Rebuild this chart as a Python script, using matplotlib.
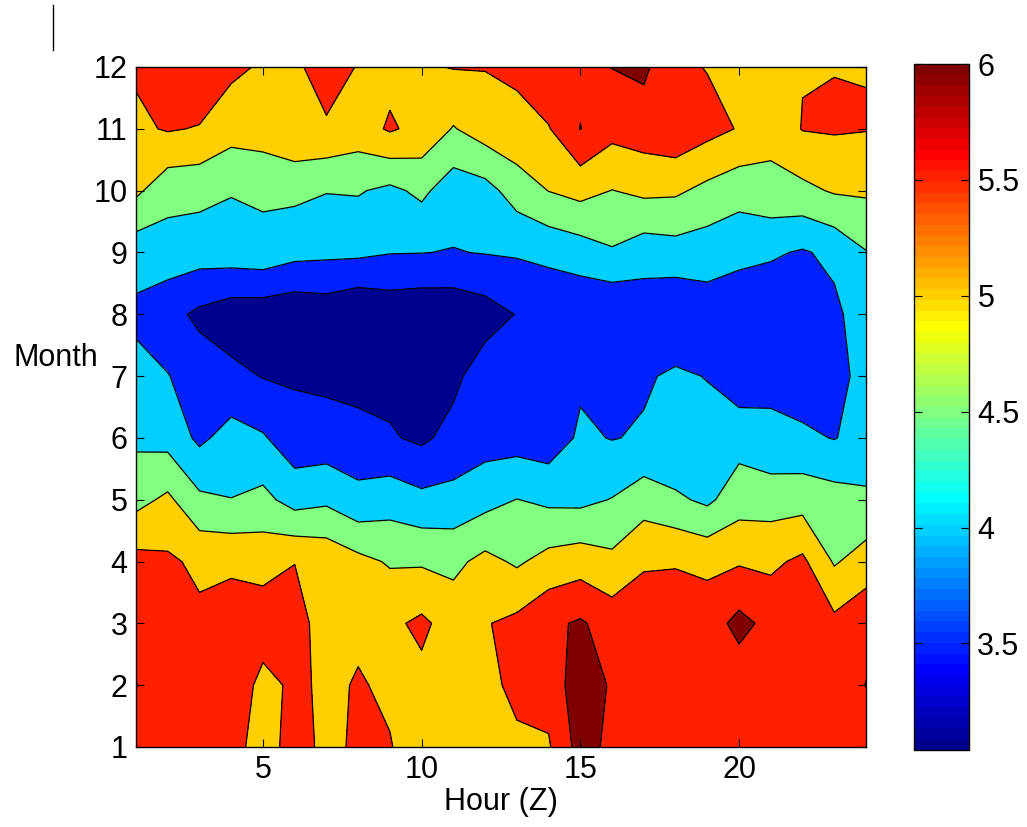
import numpy as np
import matplotlib
matplotlib.use('Agg')
import matplotlib.pyplot as plt
from matplotlib.colors import ListedColormap, Normalize
from matplotlib.cm import ScalarMappable
from matplotlib.lines import Line2D

plt.rcParams['font.family'] = ['Liberation Sans', 'DejaVu Sans']

# Grid: hour of day (Z) and month
hours = list(range(1, 25))
months = list(range(1, 13))

# values per month, hour 1 .. 24
jan = [5.8, 5.75, 5.75, 5.75, 5.2, 5.77, 5.34, 5.6, 5.52, 5.3, 5.2, 5.25,
       5.40, 5.45, 6.2, 5.88, 5.7, 5.7, 5.65, 5.7, 5.7, 5.7, 5.7, 5.7]
feb = [6.01, 5.8, 5.7, 5.85, 5.35, 5.59, 5.42, 5.53, 5.44, 5.37, 5.3, 5.35,
       5.63, 5.68, 6.3, 5.94, 5.75, 5.7, 5.7, 5.7, 5.75, 5.7, 5.75, 6.01]
mar = [5.85, 5.75, 5.6, 5.74, 5.76, 5.7, 5.27, 5.43, 5.4, 5.6, 5.28, 5.47,
       5.62, 5.9, 6.06, 5.78, 5.7, 5.65, 5.75, 6.15, 5.85, 5.65, 5.62, 5.87]
apr = [5.66, 5.58, 5.4, 5.41, 5.33, 5.49, 5.37, 5.14, 4.95, 4.94, 4.88, 5.14,
       4.93, 5.17, 5.27, 5.12, 5.46, 5.48, 5.39, 5.45, 5.4, 5.6, 4.95, 5.22]
may = [4.84, 5.10, 4.6, 4.51, 4.64, 4.30, 4.40, 4.14, 4.28, 4.13, 4.16, 4.33,
       4.51, 4.40, 4.38, 4.52, 4.77, 4.59, 4.40, 4.78, 4.78, 4.8, 4.71, 4.59]
jun = [4.4, 4.32, 3.9, 4.19, 4.05, 3.71, 3.71, 3.70, 3.55, 3.41, 3.66, 3.79,
       3.78, 3.71, 4.08, 3.98, 4.05, 4.03, 4.2, 4.3, 4.11, 4.09, 3.98, 4.18]
jul = [4.15, 4.02, 3.75, 3.63, 3.48, 3.44, 3.39, 3.29, 3.35, 3.2, 3.38, 3.77,
       3.7, 3.6, 3.92, 3.6, 3.94, 4.08, 3.98, 3.69, 3.88, 3.73, 3.8, 4.2]
aug = [3.9, 3.66, 3.4, 3.22, 3.2, 3.13, 3.2, 3.04, 3.17, 3.12, 3.14, 3.28,
       3.52, 3.6, 3.59, 3.52, 3.7, 3.57, 3.75, 3.7, 3.6, 3.6, 3.88, 4.3]
sep = [4.2, 4.27, 4.22, 4.26, 4.31, 4.15, 4.11, 4.1, 4.02, 4.01, 3.98, 4.02,
       4.05, 4.13, 4.25, 4.45, 4.22, 4.29, 4.23, 4.12, 4.07, 3.95, 4.12, 4.48]
oct_ = [5.1, 4.68, 4.65, 4.53, 4.6, 4.62, 4.52, 4.54, 4.39, 4.61, 4.22, 4.32,
        4.73, 5.01, 5.16, 4.99, 5.11, 5.08, 4.87, 4.7, 4.84, 4.88, 5.05, 5.07]
nov = [5.41, 5.54, 5.47, 5.20, 5.24, 5.43, 5.43, 5.27, 5.56, 5.35, 4.97, 5.24,
       5.37, 5.47, 6.01, 5.66, 5.75, 5.87, 5.66, 5.47, 5.17, 5.52, 5.55, 5.52]
dec = [5.56, 5.8, 5.9, 5.61, 5.44, 5.4, 5.75, 5.47, 5.36, 5.45, 5.52, 5.52,
       5.58, 5.9, 5.9, 6.01, 6.1, 5.6, 5.48, 5.35, 5.3, 5.48, 5.49, 5.49]

levels = [3.5, 4.0, 4.5, 5.0, 5.5, 6.0]
cbar_ticks = [3.5, 4, 4.5, 5, 5.5, 6]


def matlab_jet(m=64):
    # same construction as MATLAB's jet(m)
    n = int(np.ceil(m / 4))
    u = np.concatenate([np.arange(1, n + 1) / n, np.ones(n - 1), np.arange(n, 0, -1) / n])
    g = int(np.ceil(n / 2)) - (1 if m % 4 == 1 else 0) + np.arange(1, len(u) + 1)
    r = g + n
    b = g - n
    rgb = np.zeros((m, 3))
    for ch, idx in enumerate([r, g, b]):
        ok = (idx >= 1) & (idx <= m)
        rgb[idx[ok] - 1, ch] = u[ok]
    return rgb


Z = np.array([jan, feb, mar, apr, may, jun, jul, aug, sep, oct_, nov, dec])
H, M = np.meshgrid(hours, months)

jet = matlab_jet(64)
cmin, cmax = Z.min(), max(levels)


def band_color(c):
    i = int((c - cmin) / (cmax - cmin) * 64) + 1
    i = min(max(i, 1), 64)
    return tuple(jet[i - 1])


bounds = [cmin] + levels + [Z.max() + 0.01]
fill_colors = [band_color(c) for c in bounds[:-1]]

fig = plt.figure(figsize=(10.27, 8.27), dpi=100)
ax = fig.add_axes([136 / 1027, 80 / 827, 730 / 1027, 680 / 827])

ax.contourf(H, M, Z, levels=bounds, colors=fill_colors)
ax.contour(H, M, Z, levels=levels, colors='k', linewidths=0.9)

ax.set_xlim(1, 24)
ax.set_ylim(1, 12)
ax.set_xticks([5, 10, 15, 20])
ax.set_yticks(months)
ax.tick_params(direction='in', top=True, right=True, length=6, width=0.8,
               labelsize=22, pad=6)
for s in ax.spines.values():
    s.set_linewidth(1.0)

ax.set_xlabel('Hour (Z)', fontsize=22, labelpad=1)
ax.set_ylabel('Month', fontsize=22, rotation=0, ha='center', va='center')
ax.yaxis.set_label_coords(-0.11, 0.572)

# colorbar
cax = fig.add_axes([914 / 1027, 77 / 827, 55 / 1027, 686 / 827])
sm = ScalarMappable(norm=Normalize(cmin, cmax), cmap=ListedColormap(jet))
cb = fig.colorbar(sm, cax=cax)
cb.set_ticks(cbar_ticks)
cb.set_ticklabels(['3.5', '4', '4.5', '5', '5.5', '6'])
cax.tick_params(direction='in', left=True, right=True, length=6, width=0.8,
                labelsize=22, pad=6)
cb.outline.set_linewidth(1.0)

# small stray mark at the top left of the original figure
fig.add_artist(Line2D([53 / 1027, 53 / 1027], [1 - 5 / 827, 1 - 50 / 827],
                      color='k', linewidth=1.0))

fig.savefig('out.png', dpi=100)
